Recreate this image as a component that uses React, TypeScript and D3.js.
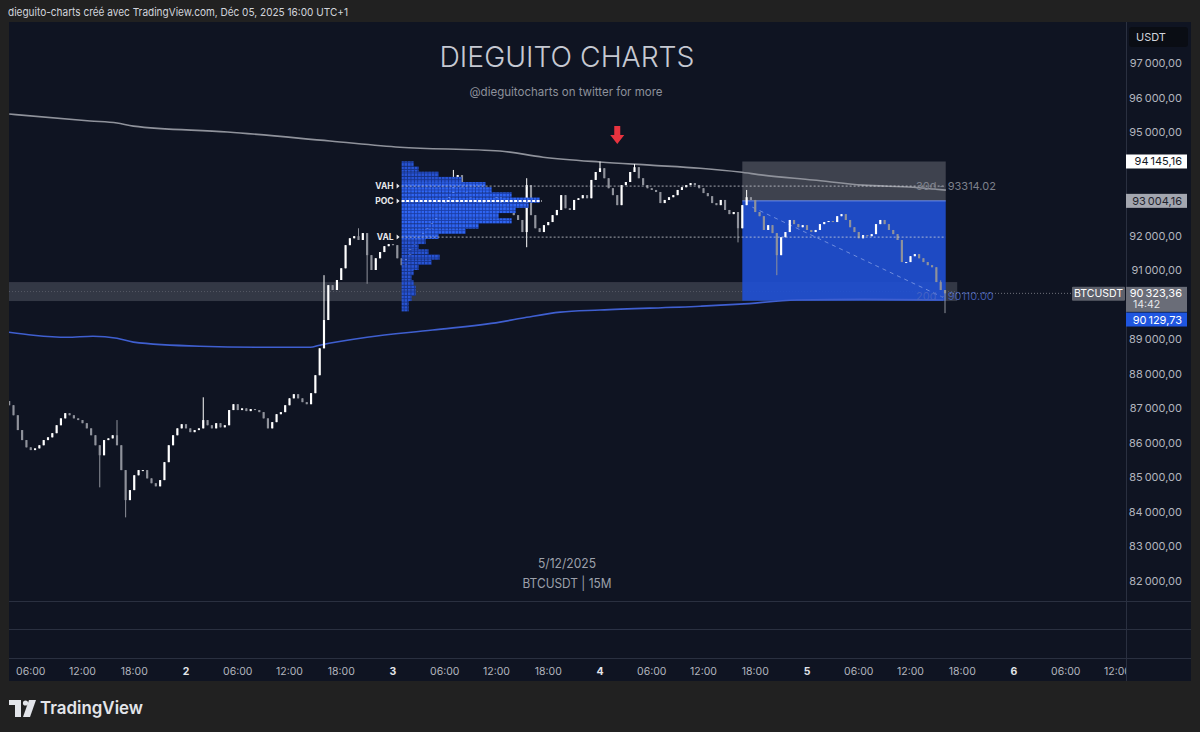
import React from "react";
import * as d3 from "d3";

const W = 1200;
const H = 732;

// ---------- data ----------
const firstCandleTime = "2025-12-01T03:30"; // 30-minute candles
const firstOpen = 87200;
const closes = [
  87080, 86790, 86360, 86070, 85860, 85780, 85830, 85920, 86070, 86150,
  86270, 86500, 86700, 86850, 86790, 86700, 86650, 86560, 86410, 86210,
  85920, 85630, 86070, 86120, 86210, 85920, 85200, 84330, 84620, 85050,
  85200, 85200, 84960, 84820, 84730, 84910, 85430, 85920, 86210, 86410,
  86530, 86410, 86300, 86360, 86410, 86650, 86500, 86410, 86560, 86440,
  86500, 86940, 87110, 86940, 86990, 86910, 86970, 86940, 86880, 86700,
  86410, 86590, 86820, 86880, 87080, 87280, 87400, 87280, 87170, 87110,
  87430, 87950, 88730, 89550, 90560, 90420, 90710, 91050, 91720, 91920,
  91980, 91870, 92070, 91430, 91000, 91340, 91520, 91690, 91750, 91720,
  91340, 91140, 91430, 91720, 91870, 91920, 92100, 92210, 92390, 92740,
  92880, 93030, 93170, 93460, 93750, 93370, 93170, 93030, 93080, 92880,
  92970, 93080, 93030, 93140, 92940, 92790, 92680, 92590, 92450, 92100,
  93460, 92590, 92210, 92100, 92300, 92390, 92590, 92740, 93170, 92790,
  92740, 93030, 93080, 93170, 93080, 93610, 93840, 93950, 93660, 93370,
  93170, 92880, 93460, 93550, 93840, 93980, 93660, 93460, 93370, 93320,
  93260, 92940, 93030, 93110, 93170, 93320, 93400, 93460, 93520, 93460,
  93370, 93230, 93140, 92940, 92880, 93030, 92740, 92620, 92680, 92210,
  92880, 93110, 93030, 92680, 92560, 92160, 92300, 92070, 91430, 91950,
  92100, 92450, 92330, 92240, 92300, 92160, 92100, 92160, 92330, 92390,
  92420, 92390, 92560, 92620, 92450, 92240, 92100, 91920, 92010, 91980,
  92040, 92330, 92450, 92330, 92160, 92040, 91870, 91230, 91230, 91400,
  91460, 91340, 91230, 91140, 91080, 90650, 90420, 90323.36,
];
const wickHighs: [string, number][] = [
  ["2025-12-01T16:00", 86650],
  ["2025-12-02T02:00", 87310],
  ["2025-12-02T16:00", 90850],
  ["2025-12-02T20:00", 92210],
  ["2025-12-03T07:00", 93900],
  ["2025-12-03T15:30", 93660],
  ["2025-12-04T00:00", 94145.16],
  ["2025-12-04T04:00", 94070],
  ["2025-12-04T17:00", 93320],
  ["2025-12-05T15:30", 90700],
];
const wickLows: [string, number][] = [
  ["2025-12-01T14:00", 84700],
  ["2025-12-01T17:00", 83830],
  ["2025-12-02T15:30", 89400],
  ["2025-12-02T21:00", 90600],
  ["2025-12-03T15:30", 91660],
  ["2025-12-04T16:00", 91800],
  ["2025-12-04T20:30", 90850],
  ["2025-12-05T16:00", 89750],
];

// moving lines (hours since Dec 1 00:00)
const upperHours = [3.5, 12.9, 16, 17.9, 28.8, 40.7, 48.8, 60.4, 65.4, 72, 77.8, 83.6, 88.2, 90.9, 96.7, 102.5, 108.3, 112.1];
const upperValues = [95520, 95320, 95260, 95170, 95000, 94740, 94560, 94450, 94270, 94130, 94040, 93950, 93840, 93750, 93610, 93460, 93400, 93314.02];
const lowerHours = [3.4, 6.3, 10.2, 13.2, 16, 17.9, 25.6, 33.4, 38.4, 39.5, 45, 52.6, 60.4, 63.5, 67.4, 72, 83.6, 88.2, 94.8, 102.5, 111.8];
const lowerValues = [89200, 89110, 89050, 89080, 89020, 88910, 88790, 88760, 88760, 88820, 89050, 89260, 89490, 89630, 89780, 89840, 89950, 90010, 90130, 90150, 90129.73];

// volume profile
const profileStart = "2025-12-03T01:00";
const profileLow = 89800;
const profileStep = 150;
const profileVolumes = [7, 7, 10, 14, 14, 12, 10, 12, 17, 30, 38, 27, 17, 24, 37, 64, 77, 110, 97, 114, 127, 138, 110, 90, 84, 60, 37, 17, 12];
const VAH = 93432;
const POC = 92997;
const VAL = 91953;
const levelsEnd = "2025-12-05T16:05";

// zones
const bandLow = 90100;
const bandHigh = 90650;
const bandEnd = "2025-12-05T17:25";
const boxStart = "2025-12-04T16:30";
const boxEnd = "2025-12-05T16:05";
const boxTop = 94145.16;
const boxMid = 93004.16;
const boxBottom = 90110;
const diagStart: [string, number] = ["2025-12-04T17:40", 92820];
const diagEnd: [string, number] = ["2025-12-05T15:45", 90210];
const arrowAt: [string, number] = ["2025-12-04T02:00", 94650];

const priceTicks = d3.range(82000, 97001, 1000);
const lastPrice = 90323.36;
const countdown = "14:42";
const lowerLast = 90129.73;

// ---------- scales ----------
const parse = d3.timeParse("%Y-%m-%dT%H:%M")!;
const day0 = parse("2025-12-01T00:00")!;
const x = d3.scaleTime().domain([day0, parse("2025-12-06T00:00")!]).range([-21, 1014]);
const y = d3.scaleLinear().domain([82000, 97000]).range([580.5, 63]);
const hourToDate = (h: number) => d3.timeMinute.offset(day0, Math.round(h * 60));

const loc = d3.formatLocale({ decimal: ",", thousands: "\u202F", grouping: [3], currency: ["", ""] });
const fmt = loc.format(",.2f");

const PL = 9, PR = 1126, PT = 22, PB = 601;
const FONT = "Inter, 'Noto Sans', sans-serif";

export default function App() {
  const t0 = parse(firstCandleTime)!;
  const candles = closes.map((c, i) => {
    const o = i === 0 ? firstOpen : closes[i - 1];
    return { t: d3.timeMinute.offset(t0, 30 * i), o, c, h: Math.max(o, c), l: Math.min(o, c) };
  });
  const idx = (s: string) => Math.round((+parse(s)! - +t0) / 1800000);
  wickHighs.forEach(([s, v]) => { const i = idx(s); if (candles[i]) candles[i].h = Math.max(candles[i].h, v); });
  wickLows.forEach(([s, v]) => { const i = idx(s); if (candles[i]) candles[i].l = Math.min(candles[i].l, v); });
  const cw = (x(d3.timeMinute.offset(t0, 30)) - x(t0)) * 0.5;

  const line = d3.line<[Date, number]>().x(d => x(d[0])).y(d => y(d[1])).curve(d3.curveMonotoneX);
  const upperPath = line(upperHours.map((h, i) => [hourToDate(h), upperValues[i]]))!;
  const lowerPath = line(lowerHours.map((h, i) => [hourToDate(h), lowerValues[i]]))!;

  const px0 = x(parse(profileStart)!);
  const vol = d3.scaleLinear().domain([0, d3.max(profileVolumes)!]).range([0, 138]);
  const levelsX1 = x(parse(levelsEnd)!);

  const timeTicks = d3.timeHour.every(6)!.range(parse("2025-12-01T06:00")!, parse("2025-12-06T13:00")!);

  const bx0 = x(parse(boxStart)!), bx1 = x(parse(boxEnd)!);
  const ax = x(parse(arrowAt[0])!), ay = y(arrowAt[1]);
  const lastY = y(lastPrice);

  // axis labels that are covered by the value tags
  const tagYs = [y(boxTop), y(boxMid), lastY, lastY + 11, y(lowerLast) + 19.5];
  const visibleTicks = priceTicks.filter(p => tagYs.every(ty => Math.abs(y(p) - ty) > 11));

  return (
    <svg width={W} height={H} style={{ position: "absolute", left: 0, top: 0, fontFamily: FONT }}>
      <defs>
        <clipPath id="main"><rect x={PL} y={PT} width={PR - PL} height={PB - PT} /></clipPath>
        <clipPath id="taxis"><rect x={PL} y={658} width={PR - PL} height={24} /></clipPath>
        <pattern id="vpA" width={3.4} height={3.4} patternUnits="userSpaceOnUse">
          <rect width={3.4} height={3.4} fill="#1b3ea8" />
          <rect width={2.5} height={2.5} fill="#2f66f5" />
        </pattern>
        <pattern id="vpB" width={3.4} height={3.4} patternUnits="userSpaceOnUse">
          <rect width={3.4} height={3.4} fill="#17348c" />
          <rect width={2.5} height={2.5} fill="#2855d6" />
        </pattern>
      </defs>
      <rect width={W} height={H} fill="#212121" />
      <text x={8} y={16} fontSize={11} fill="#d1d4dc" textLength={340} lengthAdjust="spacingAndGlyphs">
        dieguito-charts créé avec TradingView.com, Déc 05, 2025 16:00 UTC+1
      </text>
      <rect x={PL} y={PT} width={1191 - PL} height={681 - PT} fill="#0f1422" />
      {[601.5, 629.5, 658.5].map(v => (
        <line key={v} x1={PL} x2={1191} y1={v} y2={v} stroke="#2a3040" strokeWidth={1} />
      ))}
      <line x1={PR + 0.5} x2={PR + 0.5} y1={PT} y2={681} stroke="#2a3040" />

      {/* watermark */}
      <text x={567} y={67} textAnchor="middle" fontSize={29} fontWeight={300} fill="#c6c9d2" textLength={255} lengthAdjust="spacingAndGlyphs">DIEGUITO CHARTS</text>
      <text x={566} y={96} textAnchor="middle" fontSize={12} fill="#8d919b" textLength={193} lengthAdjust="spacingAndGlyphs">@dieguitocharts on twitter for more</text>
      <text x={567} y={568} textAnchor="middle" fontSize={13} fill="#9ca0aa" textLength={58} lengthAdjust="spacingAndGlyphs">5/12/2025</text>
      <text x={567} y={588} textAnchor="middle" fontSize={13} fill="#9ca0aa" textLength={89} lengthAdjust="spacingAndGlyphs">BTCUSDT | 15M</text>

      <g clipPath="url(#main)">
        <rect x={PL} y={y(bandHigh)} width={x(parse(bandEnd)!) - PL} height={y(bandLow) - y(bandHigh)} fill="#787b86" fillOpacity={0.35} />
        <line x1={PL} x2={x(parse(bandEnd)!)} y1={y((bandLow + bandHigh) / 2)} y2={y((bandLow + bandHigh) / 2)} stroke="#9598a1" strokeOpacity={0.35} strokeDasharray="1 2" />
        <rect x={bx0} y={y(boxTop)} width={bx1 - bx0} height={y(boxMid) - y(boxTop)} fill="#787b86" fillOpacity={0.45} />
        <rect x={bx0} y={y(boxMid)} width={bx1 - bx0} height={y(boxBottom) - y(boxMid)} fill="#1f4fd1" fillOpacity={0.92} />
        <line x1={bx0} x2={bx1} y1={y(boxMid)} y2={y(boxMid)} stroke="#6f8ff0" strokeWidth={1} />
        <line x1={x(parse(diagStart[0])!)} y1={y(diagStart[1])} x2={x(parse(diagEnd[0])!)} y2={y(diagEnd[1])} stroke="#8ea6e8" strokeOpacity={0.7} strokeDasharray="4 4" />

        <path d={upperPath} fill="none" stroke="#8f929b" strokeWidth={1.6} />
        <path d={lowerPath} fill="none" stroke="#3f5fd0" strokeWidth={1.6} />

        {/* candles */}
        {candles.map((d, i) => {
          const up = d.c >= d.o;
          const col = up ? "#ffffff" : "#8f929b";
          const cx = x(d.t);
          const top = y(Math.max(d.o, d.c));
          const bh = Math.max(1, y(Math.min(d.o, d.c)) - top);
          return (
            <g key={i}>
              <line x1={cx} x2={cx} y1={y(d.h)} y2={y(d.l)} stroke={col} strokeWidth={1} />
              <rect x={cx - cw / 2} y={top} width={cw} height={bh} fill={col} />
            </g>
          );
        })}

        {/* volume profile (drawn over the candles) */}
        {profileVolumes.map((v, k) => {
          const lo = profileLow + profileStep * k;
          const mid = lo + profileStep / 2;
          const inVA = mid >= VAL && mid <= VAH + profileStep / 2;
          return (
            <rect key={k} x={px0} y={y(lo + profileStep)} width={vol(v)} height={y(lo) - y(lo + profileStep)} fill={inVA ? "url(#vpA)" : "url(#vpB)"} />
          );
        })}

        <line x1={px0} x2={levelsX1} y1={y(VAH)} y2={y(VAH)} stroke="#d6d8de" strokeOpacity={0.75} strokeDasharray="2 2" />
        <line x1={px0} x2={levelsX1} y1={y(VAL)} y2={y(VAL)} stroke="#d6d8de" strokeOpacity={0.75} strokeDasharray="2 2" />
        <line x1={px0} x2={px0 + vol(d3.max(profileVolumes)!) + 2} y1={y(POC)} y2={y(POC)} stroke="#ffffff" strokeWidth={2} strokeDasharray="3 1.5" />
        {[["VAH", VAH], ["POC", POC], ["VAL", VAL]].map(([lab, v]) => (
          <g key={lab as string}>
            <text x={px0 - 8} y={y(v as number) + 3} textAnchor="end" fontSize={8.5} fontWeight={700} fill="#e8e9ed">{lab}</text>
            <path d={`M${px0 - 5},${y(v as number) - 2.5} L${px0 - 2},${y(v as number)} L${px0 - 5},${y(v as number) + 2.5} Z`} fill="#e8e9ed" />
          </g>
        ))}

        <text x={916} y={190} fontSize={11} fill="#7d808b">30d - 93314.02</text>
        <text x={916} y={300} fontSize={11} fill="#4a66c4" fillOpacity={0.85}>20d - 90110.00</text>

        <line x1={950} x2={PR} y1={lastY} y2={lastY} stroke="#9598a1" strokeOpacity={0.7} strokeDasharray="1 2" />

        <path d={`M${ax - 3},${ay - 18} L${ax + 3},${ay - 18} L${ax + 3},${ay - 9} L${ax + 7},${ay - 9} L${ax},${ay} L${ax - 7},${ay - 9} L${ax - 3},${ay - 9} Z`} fill="#e8333f" />
      </g>

      {/* price axis */}
      {visibleTicks.map(p => (
        <text key={p} x={1182} y={y(p) + 4} textAnchor="end" fontSize={11} fill="#b2b5be">{fmt(p)}</text>
      ))}
      <rect x={1129} y={27} width={59} height={20} rx={3} fill="#0a0d14" />
      <text x={1136} y={41} fontSize={11} fill="#d1d4dc">USDT</text>

      <rect x={1126} y={y(boxTop) - 7} width={61} height={14} fill="#ffffff" />
      <text x={1182} y={y(boxTop) + 4} textAnchor="end" fontSize={11} fill="#131722">{fmt(boxTop)}</text>
      <rect x={1126} y={y(boxMid) - 7} width={61} height={14} fill="#a3a6af" />
      <text x={1182} y={y(boxMid) + 4} textAnchor="end" fontSize={11} fill="#1e222d">{fmt(boxMid)}</text>

      <rect x={1072} y={lastY - 6.5} width={53} height={14} rx={1} fill="#5d606b" />
      <text x={1098.5} y={lastY + 4} textAnchor="middle" fontSize={10.5} fill="#ffffff">BTCUSDT</text>
      <rect x={1126} y={lastY - 6.5} width={61} height={25} fill="#6a6d78" />
      <text x={1182} y={lastY + 4} textAnchor="end" fontSize={11} fill="#ffffff">{fmt(lastPrice)}</text>
      <text x={1133} y={lastY + 15} fontSize={10.5} fill="#e6e7ea">{countdown}</text>
      <rect x={1126} y={y(lowerLast) + 12.5} width={61} height={14} fill="#1f56e0" />
      <text x={1182} y={y(lowerLast) + 23.5} textAnchor="end" fontSize={11} fill="#ffffff">{fmt(lowerLast)}</text>

      {/* time axis */}
      <g clipPath="url(#taxis)">
        {timeTicks.map((t, i) => {
          const isDay = t.getHours() === 0;
          return (
            <text key={i} x={x(t)} y={675} textAnchor="middle" fontSize={10.5} fontWeight={isDay ? 700 : 400} fill={isDay ? "#e3e5ea" : "#b2b5be"}>
              {isDay ? d3.timeFormat("%-d")(t) : d3.timeFormat("%H:%M")(t)}
            </text>
          );
        })}
      </g>

      {/* TradingView logo */}
      <g fill="#e3e5ea">
        <path d="M9,700 H21 V717 H15 V705 H9 Z" />
        <circle cx={25.5} cy={703} r={2.6} />
        <path d="M29,700 H36 L30,717 H23 Z" />
      </g>
      <text x={40} y={714} fontSize={17.5} fontWeight={600} fill="#e3e5ea" textLength={103} lengthAdjust="spacingAndGlyphs">TradingView</text>
    </svg>
  );
}
